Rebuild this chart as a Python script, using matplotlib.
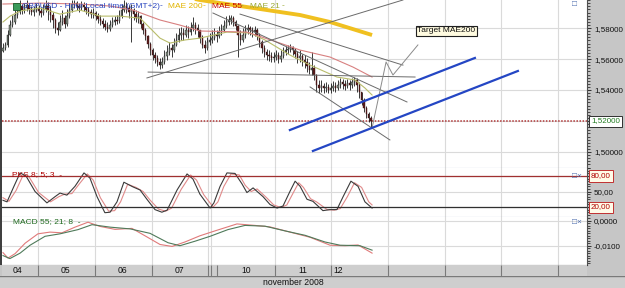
import matplotlib.pyplot as plt
from matplotlib.patches import Rectangle
from matplotlib.ticker import MultipleLocator
from matplotlib.transforms import blended_transform_factory

plt.rcParams['font.family'] = ['Liberation Sans', 'DejaVu Sans']

# hourly GBPUSD bars (bar index = hour since chart start)
first_open = 1.5652
closes = [1.5671, 1.5690, 1.5755, 1.5819, 1.5839, 1.5884, 1.5903, 1.5942, 1.5916, 1.5929,
          1.5948, 1.5923, 1.5903, 1.5916, 1.5929, 1.5910, 1.5897, 1.5923, 1.5942, 1.5916,
          1.5884, 1.5852, 1.5800, 1.5787, 1.5839, 1.5864, 1.5826, 1.5877, 1.5916, 1.5955,
          1.5961, 1.5942, 1.5929, 1.5948, 1.5935, 1.5916, 1.5903, 1.5890, 1.5897, 1.5877,
          1.5858, 1.5845, 1.5826, 1.5806, 1.5794, 1.5819, 1.5839, 1.5852, 1.5845, 1.5877,
          1.5916, 1.5942, 1.5929, 1.5903, 1.5916, 1.5890, 1.5864, 1.5877, 1.5826, 1.5787,
          1.5748, 1.5697, 1.5658, 1.5626, 1.5606, 1.5581, 1.5561, 1.5581, 1.5619, 1.5645,
          1.5671, 1.5658, 1.5690, 1.5723, 1.5755, 1.5768, 1.5755, 1.5787, 1.5774, 1.5800,
          1.5819, 1.5800, 1.5787, 1.5735, 1.5690, 1.5671, 1.5710, 1.5723, 1.5735, 1.5755,
          1.5748, 1.5774, 1.5787, 1.5813, 1.5839, 1.5852, 1.5864, 1.5839, 1.5813, 1.5755,
          1.5723, 1.5755, 1.5787, 1.5800, 1.5787, 1.5774, 1.5787, 1.5755, 1.5710, 1.5671,
          1.5645, 1.5626, 1.5619, 1.5606, 1.5613, 1.5626, 1.5600, 1.5619, 1.5645, 1.5658,
          1.5665, 1.5677, 1.5658, 1.5632, 1.5606, 1.5619, 1.5594, 1.5581, 1.5555, 1.5529,
          1.5542, 1.5497, 1.5432, 1.5413, 1.5426, 1.5413, 1.5420, 1.5400, 1.5413, 1.5426,
          1.5413, 1.5432, 1.5452, 1.5439, 1.5426, 1.5445, 1.5432, 1.5452, 1.5465, 1.5432,
          1.5387, 1.5336, 1.5284, 1.5246, 1.5220, 1.5201]
highs = [1.5703, 1.5710, 1.5787, 1.5852, 1.5884, 1.5916, 1.5948, 1.5981, 1.5955, 1.5961,
         1.5981, 1.5955, 1.5942, 1.5942, 1.5961, 1.5948, 1.5935, 1.5955, 1.5981, 1.5968,
         1.5942, 1.5903, 1.5864, 1.5839, 1.5884, 1.5916, 1.5884, 1.5923, 1.5961, 1.5981,
         1.5981, 1.5974, 1.5961, 1.5974, 1.5968, 1.5955, 1.5935, 1.5923, 1.5929, 1.5910,
         1.5897, 1.5884, 1.5864, 1.5852, 1.5839, 1.5852, 1.5871, 1.5877, 1.5884, 1.5916,
         1.5955, 1.5981, 1.5968, 1.5948, 1.5955, 1.5929, 1.5916, 1.5910, 1.5884, 1.5839,
         1.5800, 1.5755, 1.5710, 1.5671, 1.5645, 1.5626, 1.5606, 1.5613, 1.5658, 1.5690,
         1.5710, 1.5697, 1.5735, 1.5768, 1.5800, 1.5806, 1.5800, 1.5819, 1.5813, 1.5839,
         1.5871, 1.5839, 1.5826, 1.5787, 1.5755, 1.5723, 1.5742, 1.5768, 1.5787, 1.5800,
         1.5787, 1.5813, 1.5826, 1.5852, 1.5877, 1.5884, 1.5884, 1.5877, 1.5852, 1.5819,
         1.5787, 1.5800, 1.5819, 1.5826, 1.5813, 1.5806, 1.5813, 1.5800, 1.5768, 1.5723,
         1.5690, 1.5665, 1.5658, 1.5645, 1.5645, 1.5658, 1.5645, 1.5658, 1.5677, 1.5684,
         1.5690, 1.5697, 1.5684, 1.5671, 1.5652, 1.5658, 1.5632, 1.5626, 1.5606, 1.5581,
         1.5645, 1.5561, 1.5503, 1.5465, 1.5465, 1.5445, 1.5452, 1.5439, 1.5445, 1.5458,
         1.5452, 1.5465, 1.5478, 1.5471, 1.5465, 1.5471, 1.5465, 1.5478, 1.5484, 1.5478,
         1.5452, 1.5387, 1.5349, 1.5297, 1.5258, 1.5233]
lows = [1.5645, 1.5658, 1.5677, 1.5748, 1.5806, 1.5826, 1.5864, 1.5890, 1.5890, 1.5897,
        1.5910, 1.5890, 1.5884, 1.5877, 1.5903, 1.5884, 1.5871, 1.5884, 1.5903, 1.5852,
        1.5839, 1.5800, 1.5768, 1.5755, 1.5781, 1.5819, 1.5800, 1.5813, 1.5864, 1.5903,
        1.5929, 1.5916, 1.5903, 1.5916, 1.5910, 1.5890, 1.5877, 1.5864, 1.5864, 1.5852,
        1.5832, 1.5819, 1.5800, 1.5787, 1.5774, 1.5781, 1.5806, 1.5819, 1.5826, 1.5832,
        1.5864, 1.5903, 1.5897, 1.5864, 1.5710, 1.5852, 1.5839, 1.5832, 1.5800, 1.5761,
        1.5723, 1.5671, 1.5626, 1.5594, 1.5574, 1.5555, 1.5536, 1.5542, 1.5568, 1.5594,
        1.5626, 1.5613, 1.5645, 1.5684, 1.5710, 1.5723, 1.5723, 1.5742, 1.5735, 1.5755,
        1.5781, 1.5761, 1.5742, 1.5703, 1.5671, 1.5639, 1.5658, 1.5690, 1.5703, 1.5723,
        1.5710, 1.5735, 1.5755, 1.5774, 1.5800, 1.5819, 1.5826, 1.5813, 1.5787, 1.5613,
        1.5690, 1.5710, 1.5735, 1.5761, 1.5755, 1.5742, 1.5748, 1.5723, 1.5677, 1.5639,
        1.5613, 1.5594, 1.5587, 1.5581, 1.5581, 1.5594, 1.5574, 1.5581, 1.5606, 1.5626,
        1.5632, 1.5645, 1.5626, 1.5606, 1.5574, 1.5581, 1.5555, 1.5542, 1.5516, 1.5503,
        1.5497, 1.5465, 1.5387, 1.5381, 1.5387, 1.5381, 1.5387, 1.5381, 1.5381, 1.5394,
        1.5387, 1.5400, 1.5413, 1.5407, 1.5400, 1.5413, 1.5400, 1.5413, 1.5426, 1.5387,
        1.5349, 1.5303, 1.5258, 1.5220, 1.5194, 1.5162]
last_price = 1.52

# moving averages (sampled)
mae200_x = [70.3, 82.9, 108.2, 125.1, 137.7, 155.4]
mae200_y = [1.6020, 1.5981, 1.5923, 1.5884, 1.5839, 1.5755]
mae55_x = [0, 15.6, 32.4, 45.1, 54.7, 66.1, 74.5, 82.9, 102.7, 116.6, 125.1, 137.7, 147.4, 155.4]
mae55_y = [1.5955, 1.5961, 1.5955, 1.5942, 1.5916, 1.5852, 1.5819, 1.5781, 1.5774, 1.5703,
           1.5658, 1.5613, 1.5548, 1.5484]
mae21_x = [0, 3.0, 7.2, 15.6, 24.0, 32.4, 40.8, 49.3, 57.7, 61.9, 66.1, 70.3, 76.6, 82.9,
           94.3, 104.0, 110.3, 120.8, 129.3, 140.6, 148.2, 152.4, 155.4]
mae21_y = [1.5839, 1.5877, 1.5910, 1.5929, 1.5890, 1.5916, 1.5877, 1.5877, 1.5864, 1.5800,
           1.5735, 1.5703, 1.5723, 1.5735, 1.5774, 1.5768, 1.5723, 1.5626, 1.5561, 1.5484,
           1.5465, 1.5413, 1.5368]

# hand drawn lines (bar, price)
gray_lines = [((60.6, 1.5478), (168.4, 1.5981)),
              ((61.1, 1.5516), (173.5, 1.5484)),
              ((88.4, 1.5897), (170.1, 1.5323)),
              ((99.8, 1.5890), (168.4, 1.5561)),
              ((129.3, 1.5420), (162.9, 1.5078))]
zigzag_x = [155.4, 161.3, 164.2, 174.7]
zigzag_y = [1.5155, 1.5581, 1.5497, 1.5691]
blue_lines = [((120.8, 1.5142), (198.7, 1.5607)),
              ((130.5, 1.5007), (216.8, 1.5523))]
target_pos = (174.4, 1.5781)

# stochastic 8;5;3
stoch_x = [0, 1.7, 4.6, 7.2, 9.7, 13.5, 18.5, 21.9, 24.0, 26.9, 30.3, 34.1, 36.6, 39.6, 42.9,
           45.1, 48.0, 50.9, 54.7, 57.7, 60.6, 64.0, 66.9, 69.1, 73.3, 77.5, 80.0, 82.9, 87.2,
           88.8, 91.4, 94.3, 97.7, 100.6, 102.7, 105.3, 109.5, 112.4, 115.4, 117.9, 120.8,
           123.0, 125.1, 128.0, 130.5, 134.7, 137.7, 140.6, 143.2, 146.5, 149.5, 152.4, 155.4]
stoch_k = [33, 30, 60, 86, 80, 50, 28, 40, 47, 43, 60, 86, 76, 40, 9, 10, 30, 68, 59, 53, 35,
           15, 10, 14, 53, 84, 74, 45, 18, 28, 60, 86, 85, 65, 48, 57, 40, 25, 18, 22, 50, 70,
           60, 35, 31, 13, 15, 15, 40, 70, 60, 30, 18]
stoch_dx = [0, 2.5, 5.5, 8.5, 11, 15, 20, 23.5, 26, 29, 32, 35.5, 38, 41, 44.5, 47, 49.5, 52.5,
            56, 59, 62, 65.5, 68.5, 71, 75, 79, 81.5, 84.5, 88.5, 90.5, 93, 96, 99.5, 102,
            104.5, 107, 111, 114, 117, 119.5, 122.5, 124.5, 126.5, 129.5, 132, 136.5, 139.5,
            142, 145, 148, 151, 154, 155.4]
stoch_d = [38, 31, 52, 82, 78, 48, 30, 40, 45, 46, 64, 84, 72, 38, 12, 13, 30, 64, 58, 50, 33,
           16, 12, 18, 54, 82, 72, 44, 20, 30, 60, 84, 82, 62, 50, 55, 38, 24, 19, 24, 50, 67,
           58, 36, 30, 15, 14, 17, 40, 67, 58, 30, 24]

# MACD 55;21;8
macd_x = [0, 2.1, 5.1, 9.3, 14.7, 19.8, 24.8, 30.3, 35.8, 40.8, 47.2, 54.3, 59.8, 66.1, 71.2,
          76.6, 82.9, 89.3, 98.5, 106.1, 112.4, 120.8, 129.3, 137.7, 144.0, 149.5, 155.4]
macd_v = [-0.0128, -0.0150, -0.0132, -0.0090, -0.0052, -0.0045, -0.0048, -0.0025, -0.0005,
          -0.0022, -0.0034, -0.0030, -0.0060, -0.0095, -0.0103, -0.0085, -0.0060, -0.0040,
          -0.0012, -0.0018, -0.0024, -0.0045, -0.0066, -0.0098, -0.0100, -0.0097, -0.0130]
signal_x = [0, 2.9, 7.2, 11.4, 17.7, 24.0, 31.6, 37.5, 45.1, 53.5, 61.9, 69.5, 74.5, 80.8,
            87.2, 94.7, 101.9, 110.3, 118.7, 127.2, 135.6, 141.9, 150.3, 155.4]
signal_v = [-0.0140, -0.0152, -0.0130, -0.0098, -0.0062, -0.0052, -0.0035, -0.0015, -0.0025,
            -0.0032, -0.0050, -0.0088, -0.0100, -0.0082, -0.0062, -0.0035, -0.0018, -0.0021,
            -0.0040, -0.0058, -0.0085, -0.0098, -0.0100, -0.0118]

# time axis (bar positions)
day_lines = [14.7, 38.7, 62.7, 86.3, 87.6, 114.5, 138.1, 162.1, 186.1, 209.7, 233.7]
date_cells = [14.7, 38.7, 62.7, 86.3, 87.6, 90.1, 114.5, 138.1, 162.1, 186.1, 209.7, 233.7]
date_labels = ['04', '05', '06', '07', '10', '11', '12']
date_label_x = [5.9, 26.5, 50.5, 74.5, 102.3, 126.3, 141.1]
x_range = (-0.42, 245.9)

W, H = 625, 288


def box(x0, y0, x1, y1):
    return [x0 / W, 1 - y1 / H, (x1 - x0) / W, (y1 - y0) / H]


def fmt(v, nd):
    return f'{v:.{nd}f}'.replace('.', ',')


fig = plt.figure(figsize=(W / 100, H / 100), dpi=100)
fig.patch.set_facecolor('#c6c6c6')

ax = fig.add_axes(box(2, 0, 587, 168))
ax_s = fig.add_axes(box(2, 168, 587, 217))
ax_m = fig.add_axes(box(2, 217, 587, 265))
ax_d = fig.add_axes(box(2, 265, 587, 276))
ax_n = fig.add_axes(box(0, 276, 625, 288))

for a in (ax, ax_s, ax_m):
    a.set_xlim(*x_range)
    a.set_facecolor('white')
    a.set_xticks(day_lines)
    a.tick_params(axis='x', length=0, labelbottom=False)
    a.yaxis.tick_right()
    a.tick_params(axis='y', which='major', length=3, width=0.7, pad=2, labelsize=5.8,
                  color='#303030', labelcolor='#101010')
    a.tick_params(axis='y', which='minor', length=2, width=0.6, color='#303030')
    a.grid(True, color='#dadada', lw=0.8)
    a.set_axisbelow(True)
    for s in ('top', 'left'):
        a.spines[s].set_visible(False)
    a.spines['right'].set_color('#505050')
    a.spines['bottom'].set_color('#8898b8')


def boxed_label(a, y, text, color, face, edge):
    tr = blended_transform_factory(a.transAxes, a.transData)
    a.text(1 + 4 / 585, y, text, transform=tr, fontsize=5.8, color=color, ha='left',
           va='center', clip_on=False, zorder=10,
           bbox=dict(boxstyle='square,pad=0.25', facecolor=face, edgecolor=edge, lw=0.7))


# price panel: candles
n = len(closes)
opens = [first_open] + closes[:-1]
idx = list(range(n))
ax.vlines(idx, lows, highs, color='#1a1a1a', lw=0.6, zorder=3)
for i, (o, c) in enumerate(zip(opens, closes)):
    up = c >= o
    ax.bar(i, max(abs(c - o), 0.0003), bottom=min(o, c), width=0.6,
           color='#7d8a7d' if up else '#5a1c1c', edgecolor='#1a1a1a' if up else '#3a1010',
           lw=0.3, zorder=4)

ax.plot(mae21_x, mae21_y, color='#b8bc6a', lw=0.8, zorder=5)
ax.plot(mae55_x, mae55_y, color='#d88080', lw=0.8, zorder=5)
ax.plot(mae200_x, mae200_y, color='#f0c020', lw=2.8, zorder=5, solid_capstyle='butt')
for (x0, y0), (x1, y1) in gray_lines:
    ax.plot([x0, x1], [y0, y1], color='#6a6a6a', lw=0.7, zorder=6)
ax.plot(zigzag_x, zigzag_y, color='#8a8a8a', lw=0.7, zorder=6)
for (x0, y0), (x1, y1) in blue_lines:
    ax.plot([x0, x1], [y0, y1], color='#2446c4', lw=1.6, zorder=6)
ax.axhline(last_price, color='#b03838', lw=1.1, ls=(0, (1, 1)), zorder=2)
ax.text(target_pos[0], target_pos[1], 'Target MAE200', fontsize=6, va='center', ha='left',
        color='#101010', zorder=8,
        bbox=dict(boxstyle='square,pad=0.2', facecolor='#fffbe0', edgecolor='#202020', lw=0.8))

ax.set_ylim(1.4897, 1.5981)
price_ticks = [1.50, 1.52, 1.54, 1.56, 1.58]
ax.set_yticks(price_ticks, labels=['' if v == last_price else fmt(v, 5) for v in price_ticks])
ax.yaxis.set_minor_locator(MultipleLocator(0.002))
boxed_label(ax, last_price, fmt(last_price, 5), '#1f7a1f', 'white', '#303030')

# stochastic panel
ax_s.plot(stoch_dx, stoch_d, color='#e08a8a', lw=0.8)
ax_s.plot(stoch_x, stoch_k, color='#3a3a3a', lw=0.8)
ax_s.axhline(80, color='#a03030', lw=0.9)
ax_s.axhline(20, color='#303030', lw=0.9)
ax_s.set_ylim(0.7, 95.5)
ax_s.set_yticks([20, 50, 80], labels=['', '50,00', ''])
ax_s.yaxis.set_minor_locator(MultipleLocator(5))
for lv in (20, 80):
    boxed_label(ax_s, lv, fmt(lv, 2), '#b00000', '#fffbe8', '#c03030')

# MACD panel
ax_m.plot(macd_x, macd_v, color='#e07a7a', lw=0.8)
ax_m.plot(signal_x, signal_v, color='#4f7a5a', lw=0.8)
ax_m.set_ylim(-0.0178, 0.0016)
ax_m.set_yticks([-0.01, 0.0], labels=['-0,0100', '0,0000'])
ax_m.yaxis.set_minor_locator(MultipleLocator(0.001))
ax_m.spines['bottom'].set_color('#404040')

# date row
ax_d.set_xlim(*x_range)
ax_d.set_ylim(0, 1)
ax_d.set_facecolor('#cecece')
ax_d.set_xticks([])
ax_d.set_yticks([])
for s in ax_d.spines.values():
    s.set_visible(False)
ax_d.vlines(date_cells, 0, 1, color='#7a7a7a', lw=0.8)
for lab, x in zip(date_labels, date_label_x):
    ax_d.text(x, 0.5, lab, fontsize=6.2, ha='center', va='center', color='#101010')

ax_n.set_facecolor('#cecece')
ax_n.set_xticks([])
ax_n.set_yticks([])
for s in ax_n.spines.values():
    s.set_visible(False)
ax_n.axhline(1, color='#7a7a7a', lw=1)
ax_n.text(293 / W, 0.45, 'november 2008', transform=ax_n.transAxes, fontsize=6.2,
          ha='center', va='center', color='#101010')

# left frame line
fig.patches.append(Rectangle((0, 1 - 265 / H), 2 / W, 265 / H, transform=fig.transFigure,
                             facecolor='#404040', edgecolor='none'))


# header legend
def ftxt(x, y, s, color, **kw):
    fig.text(x / W, 1 - y / H, s, color=color, fontsize=6, ha='left', va='center', **kw)


fig.patches.append(Rectangle((13 / W, 1 - 10 / H), 7 / W, 7 / H, transform=fig.transFigure,
                             facecolor='#3c9a5a', edgecolor='#1c5a2a', lw=0.6))
ftxt(22, 6, 'GBPUSD - Hour Local time (GMT+2)', '#2a46c0')
ftxt(160, 6, '-', '#2a46c0')
ftxt(168, 6, 'MAE 200', '#e2b400')
ftxt(203, 6, '-', '#e2b400')
ftxt(212, 6, 'MAE 55', '#c80000')
ftxt(241, 6, '-', '#9aa830')
ftxt(250, 6, 'MAE 21', '#9aa830')
ftxt(282, 6, '-', '#9aa830')
ftxt(12, 175, 'PKS 8; 5; 3  -', '#b00000')
ftxt(13, 222, 'MACD 55; 21; 8  -', '#1f6a1f')
ftxt(572, 5, '\u25a1', '#5070b0')
ftxt(572, 177, '\u25a1\u00d7', '#5070b0')
ftxt(572, 222, '\u25a1\u00d7', '#5070b0')

fig.savefig('out.png', dpi=100, facecolor=fig.get_facecolor())
